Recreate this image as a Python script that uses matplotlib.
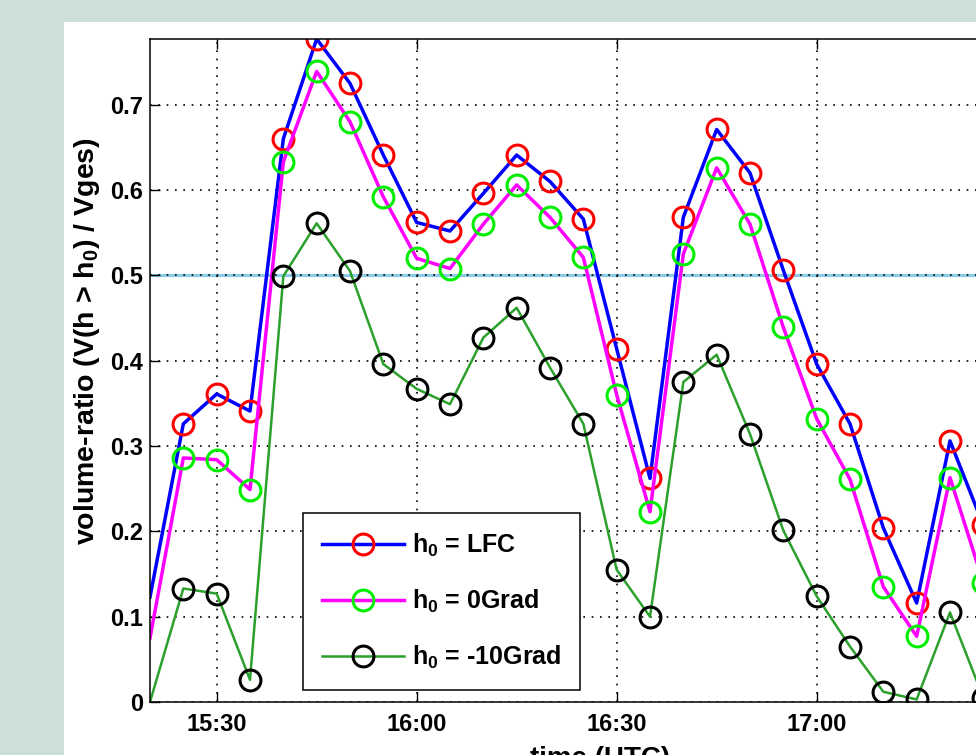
import pandas as pd
import matplotlib
matplotlib.use("Agg")
import matplotlib.pyplot as plt
import matplotlib.dates as mdates
from matplotlib.patches import Rectangle

# measurement times (UTC), 5 minute steps
times = ["15:20", "15:25", "15:30", "15:35", "15:40", "15:45", "15:50", "15:55",
         "16:00", "16:05", "16:10", "16:15", "16:20", "16:25", "16:30", "16:35",
         "16:40", "16:45", "16:50", "16:55", "17:00", "17:05", "17:10", "17:15",
         "17:20", "17:25"]

# volume ratio above h0
ratio_lfc = [0.123, 0.326, 0.361, 0.341, 0.660, 0.777, 0.725, 0.641,
             0.562, 0.552, 0.596, 0.641, 0.610, 0.566, 0.414, 0.262,
             0.568, 0.671, 0.620, 0.506, 0.396, 0.326, 0.204, 0.116,
             0.306, 0.207]
ratio_0grad = [0.075, 0.286, 0.284, 0.249, 0.633, 0.739, 0.680, 0.592,
               0.520, 0.508, 0.560, 0.606, 0.568, 0.521, 0.360, 0.223,
               0.525, 0.626, 0.560, 0.439, 0.332, 0.261, 0.135, 0.077,
               0.263, 0.140]
ratio_m10grad = [0.0, 0.133, 0.127, 0.026, 0.499, 0.561, 0.505, 0.396,
                 0.367, 0.349, 0.427, 0.462, 0.392, 0.326, 0.155, 0.100,
                 0.375, 0.407, 0.314, 0.201, 0.124, 0.065, 0.012, 0.003,
                 0.105, 0.005]
threshold = 0.5

labels = ["h$_{\\mathbf{0}}$ = LFC", "h$_{\\mathbf{0}}$ = 0Grad", "h$_{\\mathbf{0}}$ = -10Grad"]

plt.rcParams['font.family'] = ['Liberation Sans', 'DejaVu Sans']
plt.rcParams['font.weight'] = 'bold'
plt.rcParams['axes.labelweight'] = 'bold'
plt.rcParams['mathtext.fontset'] = 'custom'
plt.rcParams['mathtext.bf'] = 'Liberation Sans:bold'
plt.rcParams['mathtext.rm'] = 'Liberation Sans:bold'

t = pd.to_datetime(["2008-07-20 " + s for s in times])

W, H = 976, 755
fig = plt.figure(figsize=(W / 100, H / 100), dpi=100, facecolor='#cddfdb')
fig.patches.append(Rectangle((64 / W, 0), 1, (H - 22) / H, transform=fig.transFigure,
                             facecolor='white', edgecolor='none', zorder=-10))

left, right, top, bottom = 150, 1066, 39, 702
ax = fig.add_axes([left / W, (H - bottom) / H, (right - left) / W, (bottom - top) / H])

ax.axhline(threshold, color='#8ccbe8', lw=2.3, zorder=1.5)

mk = dict(marker='o', markersize=15, markerfacecolor='none', markeredgewidth=2.2,
          markevery=slice(1, None))
ax.plot(t, ratio_lfc, color='blue', lw=2.5, markeredgecolor='red', label=labels[0], **mk)
ax.plot(t, ratio_0grad, color='magenta', lw=2.5, markeredgecolor='#00ee00', label=labels[1], **mk)
ax.plot(t, ratio_m10grad, color='#2ca02c', lw=1.8, markeredgecolor='black', label=labels[2], **mk)

ax.set_xlim(pd.Timestamp("2008-07-20 15:20"), pd.Timestamp("2008-07-20 17:37:24"))
ax.set_ylim(0, 0.777)
ax.set_yticks([0, 0.1, 0.2, 0.3, 0.4, 0.5, 0.6, 0.7])
ax.set_yticklabels(["0", "0.1", "0.2", "0.3", "0.4", "0.5", "0.6", "0.7"])
ax.xaxis.set_major_locator(mdates.MinuteLocator(byminute=[0, 30]))
ax.xaxis.set_major_formatter(mdates.DateFormatter('%H:%M'))

ax.grid(True, color='black', linestyle=(0, (1, 4)), lw=1.2)
ax.tick_params(direction='in', length=7, width=1, top=True, right=True, labelsize=17)
ax.tick_params(axis='x', pad=8)
ax.tick_params(axis='y', pad=5)
for s in ax.spines.values():
    s.set_linewidth(1.1)

ax.set_ylabel("volume-ratio (V(h > h$_{\\mathbf{0}}$) / Vges)", fontsize=20.5, loc='bottom')
ax.yaxis.set_label_coords(-0.052, (bottom - 545) / (bottom - top))
ax.set_xlabel("time (UTC)", fontsize=20, loc='left')
ax.xaxis.set_label_coords((530 - left) / (right - left), -0.066)

leg = ax.legend(loc='lower left', bbox_to_anchor=((303 - left) / (right - left), (bottom - 690) / (bottom - top)),
                borderaxespad=0, fontsize=18, numpoints=1, handlelength=3.3, handletextpad=0.3,
                labelspacing=1.15, borderpad=0.75, fancybox=False, framealpha=1,
                edgecolor='black')
leg.get_frame().set_linewidth(1.1)

fig.savefig("out.png", dpi=100, facecolor=fig.get_facecolor())
